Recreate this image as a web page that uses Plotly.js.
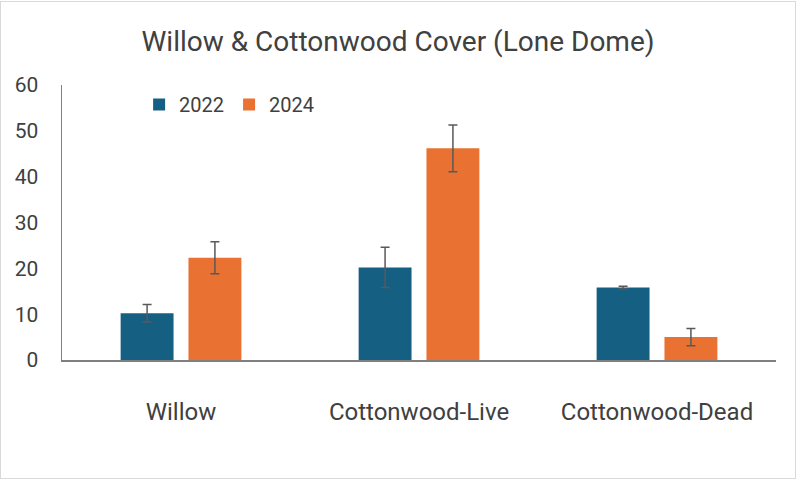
<!DOCTYPE html>
<html>
<head>
<meta charset="utf-8">
<script src="https://cdn.plot.ly/plotly-3.0.1.min.js"></script>
<style>
  html, body { margin: 0; padding: 0; background: #ffffff; }
  #frame { width: 794px; height: 476px; border: 1px solid #d9d9d9; margin-top: 1px; }
  #chart { width: 794px; height: 476px; }
</style>
</head>
<body>
<div id="frame"><div id="chart"></div></div>
<script>
const categories = ['Willow', 'Cottonwood-Live', 'Cottonwood-Dead'];
const cover2022 = [10.2, 20.2, 15.8];
const err2022 = [1.9, 4.4, 0.3];
const cover2024 = [22.3, 46.2, 5.0];
const err2024 = [3.5, 5.1, 1.9];
const yTicks = [0, 10, 20, 30, 40, 50, 60];

const font = '"Roboto", sans-serif';

const errStyle = (arr) => ({
  type: 'data', array: arr, visible: true,
  color: '#595959', thickness: 1.5, width: 4.5
});

const data = [
  { type: 'bar', name: '2022', x: categories, y: cover2022,
    marker: { color: '#156082' }, error_y: errStyle(err2022) },
  { type: 'bar', name: '2024', x: categories, y: cover2024,
    marker: { color: '#E97132' }, error_y: errStyle(err2024) }
];

const layout = {
  width: 794, height: 476,
  margin: { l: 61, r: 19, t: 83, b: 118 },
  paper_bgcolor: '#ffffff', plot_bgcolor: '#ffffff',
  font: { family: font, color: '#404040' },
  title: { text: 'Willow & Cottonwood Cover (Lone Dome)', x: 0.5, xanchor: 'center',
           y: 0.917, yanchor: 'middle', font: { size: 28, color: '#404040' } },
  barmode: 'group', bargap: 0.43, bargroupgap: 0.22,
  showlegend: true,
  legend: { orientation: 'h', x: 0.108, y: 1.0, xanchor: 'left', yanchor: 'top',
            font: { size: 20, color: '#404040' }, bgcolor: 'rgba(0,0,0,0)' },
  xaxis: { showline: true, linecolor: '#808080', linewidth: 1.5, ticks: '',
           ticklabelstandoff: 30, tickfont: { size: 24, color: '#404040' },
           showgrid: false, zeroline: false, fixedrange: true },
  yaxis: { range: [0, 60], tickvals: yTicks, showline: true, linecolor: '#808080',
           linewidth: 1.5, ticks: '', ticklabelstandoff: 18, showgrid: false, zeroline: false,
           tickfont: { size: 21, color: '#404040' }, fixedrange: true }
};

Plotly.newPlot('chart', data, layout, { displayModeBar: false, staticPlot: true });
</script>
</body>
</html>
